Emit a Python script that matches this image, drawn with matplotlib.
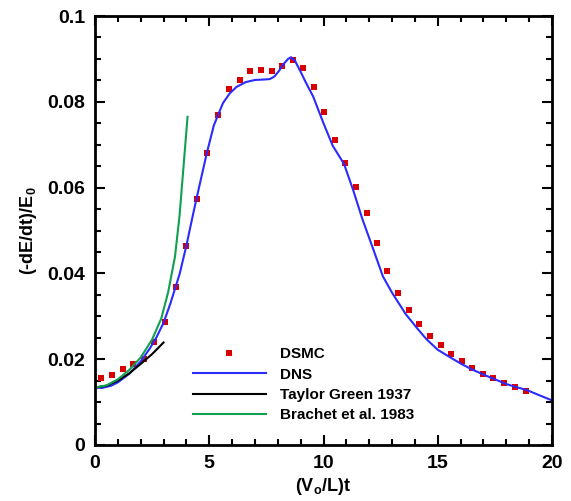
import matplotlib
matplotlib.use('Agg')
import matplotlib.pyplot as plt
from matplotlib.ticker import MultipleLocator

plt.rcParams['font.family'] = 'Liberation Sans'
plt.rcParams['font.weight'] = 'bold'
plt.rcParams['mathtext.fontset'] = 'custom'
plt.rcParams['mathtext.rm'] = 'Liberation Sans:bold'
plt.rcParams['mathtext.it'] = 'Liberation Sans:bold'
plt.rcParams['mathtext.bf'] = 'Liberation Sans:bold'

# DSMC points
dsmc_t = [0.26, 0.76, 1.24, 1.68, 2.14, 2.60, 3.08, 3.54, 3.98, 4.45, 4.92, 5.38, 5.85, 6.33,
          6.80, 7.27, 7.73, 8.20, 8.67, 9.10, 9.57, 10.04, 10.52, 10.96, 11.42, 11.89, 12.34,
          12.79, 13.27, 13.74, 14.19, 14.66, 15.13, 15.59, 16.05, 16.51, 16.98, 17.43, 17.90,
          18.38, 18.85]
dsmc_e = [0.0155, 0.0163, 0.0176, 0.0188, 0.0201, 0.0241, 0.0287, 0.0368, 0.0464, 0.0573,
          0.0681, 0.0769, 0.0831, 0.0852, 0.0871, 0.0875, 0.0872, 0.0884, 0.0898, 0.0880,
          0.0835, 0.0776, 0.0711, 0.0657, 0.0602, 0.0540, 0.0471, 0.0406, 0.0355, 0.0314,
          0.0283, 0.0255, 0.0232, 0.0213, 0.0196, 0.0179, 0.0166, 0.0155, 0.0145, 0.0136,
          0.0127]

# DNS curve
dns_t = [0, 0.3, 0.7, 1.0, 1.5, 2.0, 2.4, 2.7, 3.0, 3.3, 3.7, 4.0, 4.3, 4.55, 4.9, 5.2, 5.6,
         5.9, 6.2, 6.6, 7.0, 7.4, 7.65, 7.85, 8.05, 8.25, 8.45, 8.58, 8.75, 9.0, 9.2, 9.55,
         10.0, 10.4, 10.9, 11.3, 11.7, 12.2, 12.6, 13.0, 13.6, 14.1, 14.5, 15.0, 15.4, 16.0,
         16.5, 17.1, 17.6, 18.0, 18.5, 18.9, 19.4, 20.0]
dns_e = [0.0134, 0.0133, 0.0138, 0.0146, 0.0166, 0.0195, 0.0225, 0.0252, 0.0285, 0.0330,
         0.0398, 0.0465, 0.0540, 0.0600, 0.0682, 0.0745, 0.0797, 0.0820, 0.0835, 0.0846,
         0.0851, 0.0852, 0.0853, 0.0859, 0.0872, 0.0888, 0.0900, 0.0904, 0.0896, 0.0870,
         0.0848, 0.0812, 0.0750, 0.0698, 0.0655, 0.0594, 0.0527, 0.0453, 0.0393, 0.0355,
         0.0305, 0.0272, 0.0247, 0.0222, 0.0209, 0.0190, 0.0176, 0.0162, 0.0151, 0.0142,
         0.0134, 0.0128, 0.0117, 0.0104]

# Taylor Green 1937
tg_t = [0, 0.5, 1.0, 1.5, 2.0, 2.5, 3.0]
tg_e = [0.0134, 0.0138, 0.0150, 0.0167, 0.0189, 0.0212, 0.0239]

# Brachet et al. 1983
br_t = [0, 0.5, 1.0, 1.5, 2.0, 2.5, 2.9, 3.2, 3.5, 3.7, 4.05]
br_e = [0.0134, 0.0139, 0.0153, 0.0175, 0.0204, 0.0246, 0.0295, 0.0356, 0.0439, 0.0535, 0.0765]

yticks = [0, 0.02, 0.04, 0.06, 0.08, 0.1]
yticklabels = ['0', '0.02', '0.04', '0.06', '0.08', '0.1']
xticks = [0, 5, 10, 15, 20]

fig = plt.figure(figsize=(5.71, 5.01), dpi=100)
ax = fig.add_axes([0.1664, 0.1118, 0.8003, 0.8562])

ax.plot(dsmc_t, dsmc_e, 's', color='#d80000', markersize=4, markeredgewidth=0, label='DSMC')
ax.plot(dns_t, dns_e, '-', color='#2b2bff', lw=1.5, label='DNS')
ax.plot(tg_t, tg_e, '-', color='black', lw=1.5, label='Taylor Green 1937')
ax.plot(br_t, br_e, '-', color='#10a050', lw=1.5, label='Brachet et al. 1983')

ax.set_xlim(0, 20)
ax.set_ylim(0, 0.1)
ax.set_xticks(xticks)
ax.set_xticklabels([str(v) for v in xticks])
ax.set_yticks(yticks)
ax.set_yticklabels(yticklabels)
ax.xaxis.set_minor_locator(MultipleLocator(1))
ax.yaxis.set_minor_locator(MultipleLocator(0.005))
ax.tick_params(which='both', direction='in', top=True, right=True, width=1.5)
ax.tick_params(which='major', length=7, labelsize=14, pad=7)
ax.tick_params(which='minor', length=4)
for s in ax.spines.values():
    s.set_linewidth(2)

ax.set_xlabel(r'(V$_\mathrm{o}$/L)t', fontsize=13, fontweight='bold', labelpad=3)
ax.set_ylabel(r'(-dE/dt)/E$_\mathrm{0}$', fontsize=13, fontweight='bold', labelpad=6)

ax.legend(loc='upper left', bbox_to_anchor=(0.214, 0.228), frameon=False, fontsize=11,
          handlelength=4.8, handletextpad=0.9, labelspacing=0.42, borderpad=0,
          borderaxespad=0, numpoints=1)

fig.savefig('out.png', dpi=100)
